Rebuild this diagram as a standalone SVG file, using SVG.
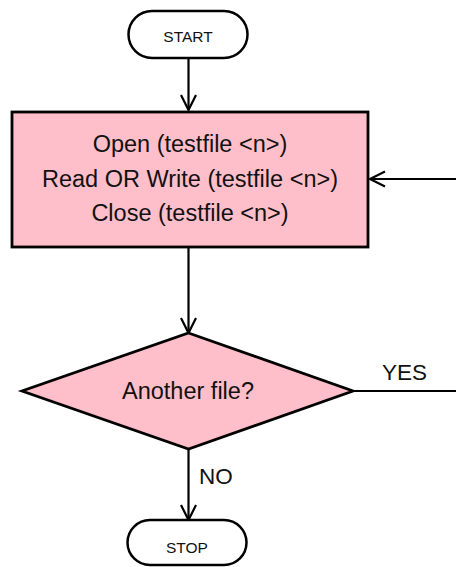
<svg xmlns="http://www.w3.org/2000/svg" width="456" height="567" viewBox="0 0 456 567">
  <defs>
    <marker id="arrow" viewBox="0 0 20 20" refX="16" refY="10" markerWidth="20" markerHeight="20" markerUnits="userSpaceOnUse" orient="auto">
      <path d="M1,2.5 L16,10 L1,17.5" fill="none" stroke="#000" stroke-width="2.2"/>
    </marker>
  </defs>
  <style>
    .term { fill: #fff; stroke: #000; stroke-width: 2.5; }
    .proc { fill: #ffbfca; stroke: #000; stroke-width: 2.8; }
    .edge { fill: none; stroke: #000; stroke-width: 2.2; }
    text { font-family: "Liberation Sans", Arial, sans-serif; fill: #111; text-anchor: middle; }
    .small { font-size: 15.5px; }
    .big { font-size: 23.5px; }
    .label { font-size: 22.5px; text-anchor: start; }
  </style>

  <g id="connectors">
    <line class="edge" x1="188.5" y1="58" x2="188.5" y2="110" marker-end="url(#arrow)"/>
    <line class="edge" x1="188.5" y1="247" x2="188.5" y2="333" marker-end="url(#arrow)"/>
    <polyline class="edge" points="353,391 456,391"/>
    <line class="edge" x1="456" y1="179" x2="370" y2="179" marker-end="url(#arrow)"/>
    <line class="edge" x1="188.5" y1="449" x2="188.5" y2="520" marker-end="url(#arrow)"/>
    <text class="label" x="382" y="380">YES</text>
    <text class="label" x="199" y="484">NO</text>
  </g>

  <g id="start">
    <rect class="term" x="128.5" y="11" width="119" height="47" rx="23.5"/>
    <text class="small" x="188" y="41.5">START</text>
  </g>

  <g id="file-ops">
    <rect class="proc" x="12" y="112" width="356" height="135"/>
    <text class="big" x="190" y="152">Open (testfile &lt;n&gt;)</text>
    <text class="big" x="190" y="187">Read OR Write (testfile &lt;n&gt;)</text>
    <text class="big" x="190" y="221">Close (testfile &lt;n&gt;)</text>
  </g>

  <g id="another-file">
    <polygon class="proc" points="188.5,333 353,391 188.5,449 22,391"/>
    <text class="big" x="188" y="399">Another file?</text>
  </g>

  <g id="stop">
    <rect class="term" x="127.5" y="520" width="119" height="45" rx="22.5"/>
    <text class="small" x="187" y="553">STOP</text>
  </g>
</svg>
